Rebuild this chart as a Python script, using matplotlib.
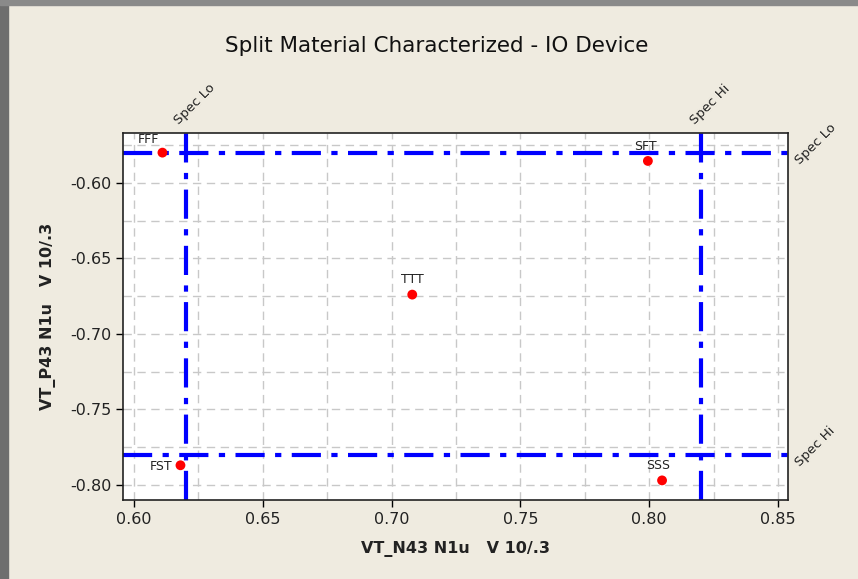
import matplotlib.pyplot as plt
from matplotlib.patches import Rectangle

# split corners
labels = ['FFF', 'SFT', 'TTT', 'FST', 'SSS']
vt_n = [0.611, 0.7995, 0.708, 0.618, 0.805]
vt_p = [-0.580, -0.5855, -0.674, -0.787, -0.797]

# spec limits
x_spec_lo, x_spec_hi = 0.620, 0.820
y_spec_lo, y_spec_hi = -0.580, -0.780

x_ticks = [0.60, 0.65, 0.70, 0.75, 0.80, 0.85]
y_ticks = [-0.60, -0.65, -0.70, -0.75, -0.80]

bg = '#efebe0'
fig = plt.figure(figsize=(8.58, 5.79), dpi=100, facecolor=bg)
# window frame
fig.patches.append(Rectangle((0, 0), 0.009, 1, transform=fig.transFigure, color='#6e6e6e', zorder=0))
fig.patches.append(Rectangle((0, 0.991), 1, 0.009, transform=fig.transFigure, color='#8a8a8a', zorder=0))

ax = fig.add_axes([0.1434, 0.1364, 0.775, 0.6339])
ax.set_xlim(0.5957, 0.8539)
ax.set_ylim(-0.810, -0.567)

ax.set_xticks(x_ticks)
ax.set_xticklabels([f'{v:.2f}' for v in x_ticks], fontsize=11.5, color='#222222')
ax.set_yticks(y_ticks)
ax.set_yticklabels([f'{v:.2f}' for v in y_ticks], fontsize=11.5, color='#222222')
ax.set_xticks([0.625, 0.675, 0.725, 0.775, 0.825], minor=True)
ax.set_yticks([-0.575, -0.625, -0.675, -0.725, -0.775], minor=True)
ax.tick_params(which='minor', length=0)
ax.tick_params(which='major', length=5, width=1)
ax.grid(True, which='both', color='#c8c8c8', linestyle=(0, (6, 4)), linewidth=1)
ax.set_axisbelow(True)
for s in ax.spines.values():
    s.set_linewidth(1.2)
    s.set_color('#222222')

dash = (0, (7, 2.5, 1.5, 2.5))
ax.axvline(x_spec_lo, color='#0000ff', lw=3, ls=dash, zorder=2)
ax.axvline(x_spec_hi, color='#0000ff', lw=3, ls=dash, zorder=2)
ax.axhline(y_spec_lo, color='#0000ff', lw=3, ls=dash, zorder=2)
ax.axhline(y_spec_hi, color='#0000ff', lw=3, ls=dash, zorder=2)

ax.scatter(vt_n, vt_p, s=50, color='#ff0000', zorder=3, edgecolors='none')

offsets = {'FFF': (-10, 5, 'center', 'bottom'), 'SFT': (-2, 6, 'center', 'bottom'),
           'TTT': (0, 6, 'center', 'bottom'), 'FST': (-6, -1, 'right', 'center'),
           'SSS': (-3, 6, 'center', 'bottom')}
for lab, x, y in zip(labels, vt_n, vt_p):
    dx, dy, ha, va = offsets[lab]
    ax.annotate(lab, (x, y), xytext=(dx, dy), textcoords='offset points',
                ha=ha, va=va, fontsize=9, color='#222222')

# spec labels
for xv, txt in [(x_spec_lo, 'Spec Lo'), (x_spec_hi, 'Spec Hi')]:
    ax.annotate(txt, (xv, 1.0), xycoords=('data', 'axes fraction'), xytext=(-3, 4),
                textcoords='offset points', rotation=45, ha='left', va='bottom',
                fontsize=9.5, color='#222222', rotation_mode='anchor')
for yv, txt in [(y_spec_lo, 'Spec Lo'), (y_spec_hi, 'Spec Hi')]:
    ax.annotate(txt, (1.0, yv), xycoords=('axes fraction', 'data'), xytext=(10, -10),
                textcoords='offset points', rotation=45, ha='left', va='bottom',
                fontsize=9.5, color='#222222', rotation_mode='anchor')

fig.text(0.509, 0.92, 'Split Material Characterized - IO Device', ha='center', va='center',
         fontsize=15.5, color='#111111')
ax.set_xlabel('VT_N43 N1u   V 10/.3', fontsize=11.5, fontweight='bold', labelpad=10, color='#222222')
ax.set_ylabel('VT_P43 N1u   V 10/.3', fontsize=11.5, fontweight='bold', labelpad=10, color='#222222')

fig.savefig('out.png', dpi=100, facecolor=bg)
